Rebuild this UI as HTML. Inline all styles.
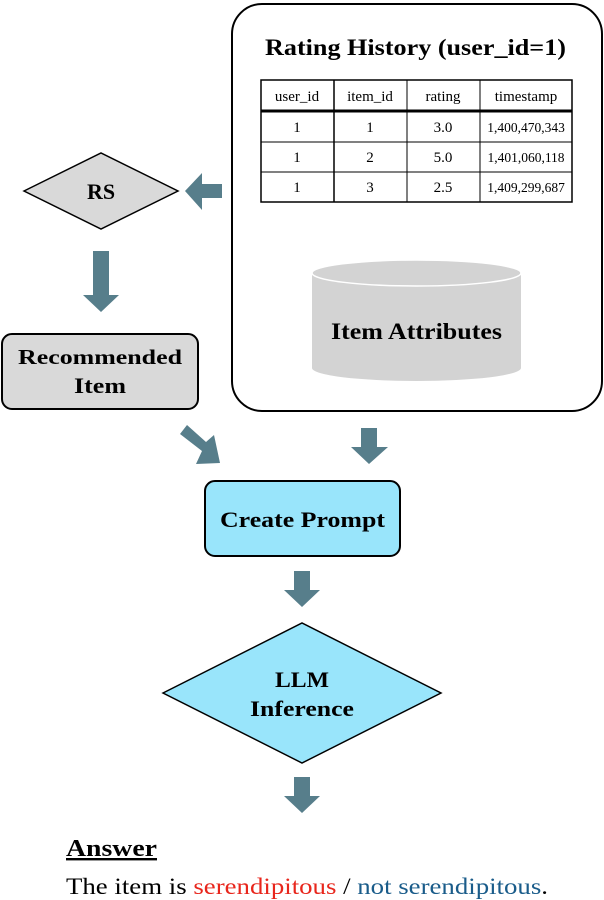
<!DOCTYPE html>
<html><head><meta charset="utf-8"><style>
html,body{margin:0;padding:0;background:#fff;}
svg{display:block;}
text{font-family:"Liberation Serif",serif;}
</style></head><body>
<svg width="604" height="900" viewBox="0 0 604 900" xmlns="http://www.w3.org/2000/svg">
<rect x="232" y="4" width="370" height="407" rx="30" fill="#fff" stroke="#000" stroke-width="2"/>
<text x="265" y="55" font-size="23" font-weight="bold" textLength="301" lengthAdjust="spacingAndGlyphs">Rating History (user_id=1)</text>
<g stroke="#000" fill="none">
<rect x="261" y="80" width="311" height="122" stroke-width="1.5"/>
<line x1="261" y1="111" x2="572" y2="111" stroke-width="3"/>
<line x1="261" y1="142" x2="572" y2="142"/>
<line x1="261" y1="172" x2="572" y2="172"/>
<line x1="334" y1="80" x2="334" y2="202" stroke-width="1.5"/>
<line x1="407" y1="80" x2="407" y2="202"/>
<line x1="480" y1="80" x2="480" y2="202"/>
</g>
<g font-size="15" text-anchor="middle">
<text x="297" y="101">user_id</text><text x="370" y="101">item_id</text><text x="443" y="101">rating</text><text x="526" y="101">timestamp</text>
<text x="297" y="132">1</text><text x="370" y="132">1</text><text x="443" y="132">3.0</text><text x="526" y="132" font-size="13.5">1,400,470,343</text>
<text x="297" y="162">1</text><text x="370" y="162">2</text><text x="443" y="162">5.0</text><text x="526" y="162" font-size="13.5">1,401,060,118</text>
<text x="297" y="192">1</text><text x="370" y="192">3</text><text x="443" y="192">2.5</text><text x="526" y="192" font-size="13.5">1,409,299,687</text>
</g>
<path d="M312,273 L312,368 A104.5,13 0 0 0 521,368 L521,273 Z" fill="#d3d3d3"/>
<ellipse cx="416.5" cy="273" rx="104.5" ry="13" fill="#d3d3d3" stroke="#fff" stroke-width="1.5"/>
<text x="331" y="339" font-size="23" font-weight="bold" textLength="171" lengthAdjust="spacingAndGlyphs">Item Attributes</text>
<polygon points="24,191 101,153 178,191 101,229" fill="#d9d9d9" stroke="#000" stroke-width="1.5"/>
<text x="101" y="199" font-size="22" font-weight="bold" text-anchor="middle">RS</text>
<polygon points="222,184 202,184 202,173 185,191 202,210 202,198 222,198" fill="#577e8b"/>
<polygon points="93,251 109,251 109,295 119,295 101,312 83,295 93,295" fill="#577e8b"/>
<rect x="2" y="334" width="196" height="75" rx="10" fill="#d9d9d9" stroke="#000" stroke-width="2"/>
<text x="18" y="364" font-size="21" font-weight="bold" textLength="164" lengthAdjust="spacingAndGlyphs">Recommended</text>
<text x="74" y="393" font-size="22" font-weight="bold" textLength="52" lengthAdjust="spacingAndGlyphs">Item</text>
<polygon points="180,434 187,425 206,442 214,435 220,463 196,464 202,451" fill="#577e8b"/>
<polygon points="361,428 377,428 377,447 388,447 369,464 351,447 361,447" fill="#577e8b"/>
<rect x="205" y="481" width="195" height="75" rx="10" fill="#99e5fb" stroke="#000" stroke-width="2"/>
<text x="220" y="527" font-size="22" font-weight="bold" textLength="165" lengthAdjust="spacingAndGlyphs">Create Prompt</text>
<polygon points="294,571 310,571 310,590 320,590 302,607 284,590 294,590" fill="#577e8b"/>
<polygon points="163,693 302,623 441,693 302,763" fill="#99e5fb" stroke="#000" stroke-width="1.5"/>
<text x="275" y="687" font-size="22" font-weight="bold" textLength="54" lengthAdjust="spacingAndGlyphs">LLM</text>
<text x="250" y="716" font-size="22" font-weight="bold" textLength="104" lengthAdjust="spacingAndGlyphs">Inference</text>
<polygon points="294,777 310,777 310,796 320,796 302,813 284,796 294,796" fill="#577e8b"/>
<text x="66" y="856" font-size="24" font-weight="bold" text-decoration="underline" textLength="91" lengthAdjust="spacingAndGlyphs">Answer</text>
<text x="66" y="894" font-size="23" textLength="482" lengthAdjust="spacingAndGlyphs">The item is <tspan fill="#e8261c">serendipitous</tspan> / <tspan fill="#1a5c8a">not serendipitous</tspan>.</text>
</svg>
</body></html>
